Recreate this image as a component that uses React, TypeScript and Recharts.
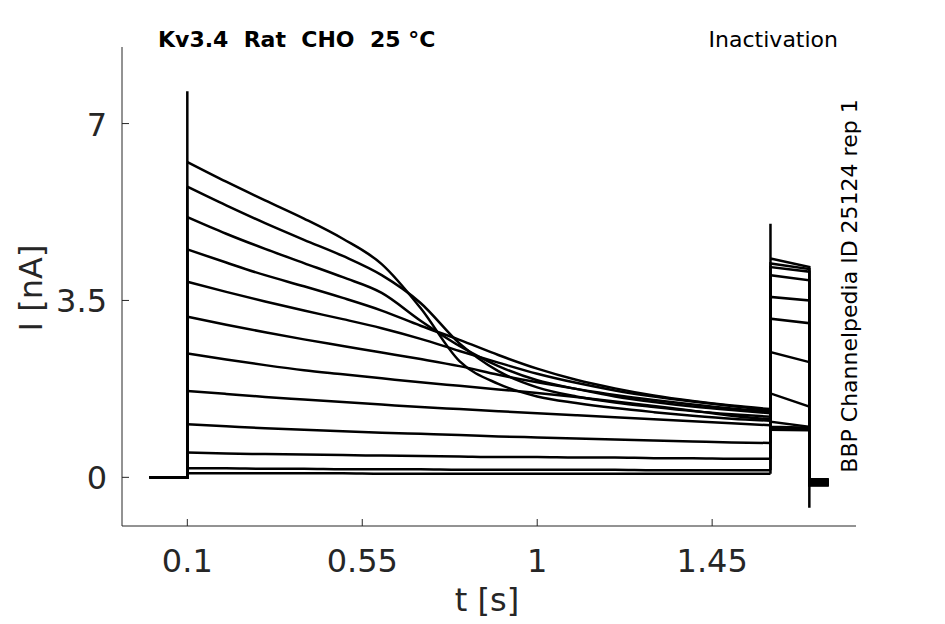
import { LineChart, Line, XAxis, YAxis } from "recharts";

// sample times for the prepulse segment (s)
const PULSE_T = [0.1, 0.2, 0.3, 0.4, 0.5, 0.6, 0.7, 0.8, 0.9, 1.0, 1.1, 1.2, 1.3, 1.4, 1.5, 1.6];

// current during the prepulse (nA), one row per sweep
const SWEEPS = [
  [6.24, 5.85, 5.48, 5.12, 4.72, 4.22, 3.35, 2.3, 1.85, 1.6, 1.47, 1.37, 1.29, 1.22, 1.16, 1.12],
  [5.75, 5.38, 5.03, 4.7, 4.38, 4.0, 3.45, 2.65, 2.1, 1.78, 1.6, 1.48, 1.39, 1.31, 1.25, 1.2],
  [5.15, 4.82, 4.52, 4.24, 3.96, 3.65, 3.1, 2.6, 2.2, 1.92, 1.75, 1.6, 1.49, 1.4, 1.33, 1.27],
  [4.51, 4.25, 4.0, 3.78, 3.55, 3.3, 3.0, 2.72, 2.42, 2.15, 1.93, 1.76, 1.62, 1.51, 1.42, 1.35],
  [3.87, 3.67, 3.48, 3.3, 3.13, 2.95, 2.74, 2.5, 2.27, 2.05, 1.87, 1.72, 1.6, 1.5, 1.41, 1.33],
  [3.18, 3.02, 2.87, 2.73, 2.6, 2.47, 2.34, 2.2, 2.03, 1.88, 1.75, 1.63, 1.53, 1.44, 1.36, 1.3],
  [2.45, 2.33, 2.22, 2.12, 2.04, 1.96, 1.88, 1.81, 1.74, 1.67, 1.59, 1.5, 1.41, 1.32, 1.22, 1.15],
  [1.71, 1.65, 1.59, 1.54, 1.49, 1.44, 1.39, 1.35, 1.31, 1.27, 1.23, 1.19, 1.15, 1.11, 1.07, 1.03],
  [1.05, 1.01, 0.97, 0.94, 0.91, 0.88, 0.86, 0.84, 0.81, 0.79, 0.77, 0.75, 0.73, 0.71, 0.69, 0.68],
  [0.49, 0.47, 0.46, 0.45, 0.44, 0.43, 0.42, 0.41, 0.4, 0.4, 0.39, 0.39, 0.38, 0.38, 0.37, 0.37],
  [0.18, 0.18, 0.17, 0.17, 0.16, 0.16, 0.16, 0.15, 0.15, 0.15, 0.15, 0.15, 0.14, 0.14, 0.14, 0.14],
  [0.08, 0.08, 0.08, 0.08, 0.08, 0.07, 0.07, 0.07, 0.07, 0.07, 0.07, 0.07, 0.07, 0.07, 0.07, 0.07],
];

// test pulse (tail) current at its start and end, per sweep
const TAIL_START = [0.94, 0.97, 1.0, 1.1, 1.66, 2.48, 3.14, 3.57, 4.0, 4.16, 4.23, 4.33];
const TAIL_END = [0.93, 0.95, 0.98, 1.0, 1.4, 2.28, 3.05, 3.5, 3.9, 4.07, 4.12, 4.16];
// residual current after the test pulse
const AFTER = [-0.05, -0.08, -0.12, -0.15, -0.1, -0.06, -0.14, -0.09, -0.11, -0.04, -0.16, -0.1];

const T_START = 0.003;
const T_TAIL = 1.6;
const T_OFF = 1.7;
const T_END = 1.75;
const ON_SPIKE = 7.64;
const TAIL_SPIKE = 5.02;
const OFF_SPIKE = -0.6;

const X_TICKS = [0.1, 0.55, 1, 1.45];
const X_LABELS = ["0.1", "0.55", "1", "1.45"];
const Y_TICKS = [0, 3.5, 7];
const Y_LABELS = ["0", "3.5", "7"];

const FONT = "'DejaVu Sans', sans-serif";
const AXIS = "#262626";

// holding level and step onto the prepulse
function onsetPart(i: number) {
  const pts = [{ t: T_START, y: 0 }, { t: PULSE_T[0], y: 0 }];
  if (i === 0) pts.push({ t: PULSE_T[0], y: ON_SPIKE });
  pts.push({ t: PULSE_T[0], y: SWEEPS[i][0] });
  return pts;
}

function pulsePart(i: number) {
  return SWEEPS[i].map((v, k) => ({ t: PULSE_T[k], y: v }));
}

// step to the test pulse, tail, and return to holding
function tailPart(i: number) {
  const last = SWEEPS.length - 1;
  const pts = [{ t: T_TAIL, y: SWEEPS[i][SWEEPS[i].length - 1] }];
  if (i === last) pts.push({ t: T_TAIL, y: TAIL_SPIKE });
  pts.push({ t: T_TAIL, y: TAIL_START[i] });
  pts.push({ t: T_OFF, y: TAIL_END[i] });
  if (i === last) pts.push({ t: T_OFF, y: OFF_SPIKE });
  pts.push({ t: T_OFF, y: AFTER[i] });
  pts.push({ t: T_END, y: AFTER[i] });
  return pts;
}

const XTick = ({ x, y, payload }: any) => {
  const idx = X_TICKS.indexOf(payload.value);
  return (
    <g>
      <line x1={x} x2={x} y1={y} y2={y - 7} stroke={AXIS} strokeWidth={1} />
      <text x={x} y={y + 46} textAnchor="middle" fontFamily={FONT} fontSize={32} fill={AXIS}>
        {X_LABELS[idx]}
      </text>
    </g>
  );
};

const YTick = ({ x, y, payload }: any) => {
  const idx = Y_TICKS.indexOf(payload.value);
  return (
    <g>
      <line x1={x} x2={x + 7} y1={y} y2={y} stroke={AXIS} strokeWidth={1} />
      <text x={x - 15} y={y + 12} textAnchor="end" fontFamily={FONT} fontSize={32} fill={AXIS}>
        {Y_LABELS[idx]}
      </text>
    </g>
  );
};

const lineProps = { dataKey: "y", stroke: "#000", strokeWidth: 2.5, dot: false, isAnimationActive: false } as const;

export default function App() {
  return (
    <div style={{ position: "absolute", left: 0, top: 0, width: 945, height: 624, background: "#fff" }}>
      <LineChart width={945} height={624} margin={{ top: 47, right: 89, bottom: 97, left: 121 }}>
        <XAxis
          dataKey="t" type="number" domain={[-0.068, 1.82]} allowDataOverflow
          ticks={X_TICKS} height={1} tickSize={0} tickMargin={0} tickLine={false}
          axisLine={{ stroke: AXIS, strokeWidth: 1 }} tick={<XTick />}
        />
        <YAxis
          dataKey="y" type="number" domain={[-0.963, 8.515]} allowDataOverflow
          ticks={Y_TICKS} width={1} tickSize={0} tickMargin={0} tickLine={false}
          axisLine={{ stroke: AXIS, strokeWidth: 1 }} tick={<YTick />}
        />
        {SWEEPS.map((_, i) => (
          <Line key={`on${i}`} data={onsetPart(i)} type="linear" {...lineProps} />
        ))}
        {SWEEPS.map((_, i) => (
          <Line key={`p${i}`} data={pulsePart(i)} type="monotone" {...lineProps} />
        ))}
        {SWEEPS.map((_, i) => (
          <Line key={`t${i}`} data={tailPart(i)} type="linear" {...lineProps} />
        ))}
      </LineChart>
      <svg width={945} height={624} style={{ position: "absolute", left: 0, top: 0, pointerEvents: "none" }}>
        <text x={158} y={47} fontFamily={FONT} fontSize={22} fontWeight="bold" fill="#000" style={{ whiteSpace: "pre" }}>
          {"Kv3.4  Rat  CHO  25 °C"}
        </text>
        <text x={838} y={47} textAnchor="end" fontFamily={FONT} fontSize={22} fill="#000">
          Inactivation
        </text>
        <text
          x={0} y={0} transform="translate(857 286) rotate(-90)" textAnchor="middle"
          fontFamily={FONT} fontSize={22} fill="#000"
        >
          BBP Channelpedia ID 25124 rep 1
        </text>
        <text
          x={0} y={0} transform="translate(42 288) rotate(-90)" textAnchor="middle"
          fontFamily={FONT} fontSize={32} fill={AXIS}
        >
          I [nA]
        </text>
        <text x={487} y={611} textAnchor="middle" fontFamily={FONT} fontSize={32} fill={AXIS}>
          t [s]
        </text>
      </svg>
    </div>
  );
}
